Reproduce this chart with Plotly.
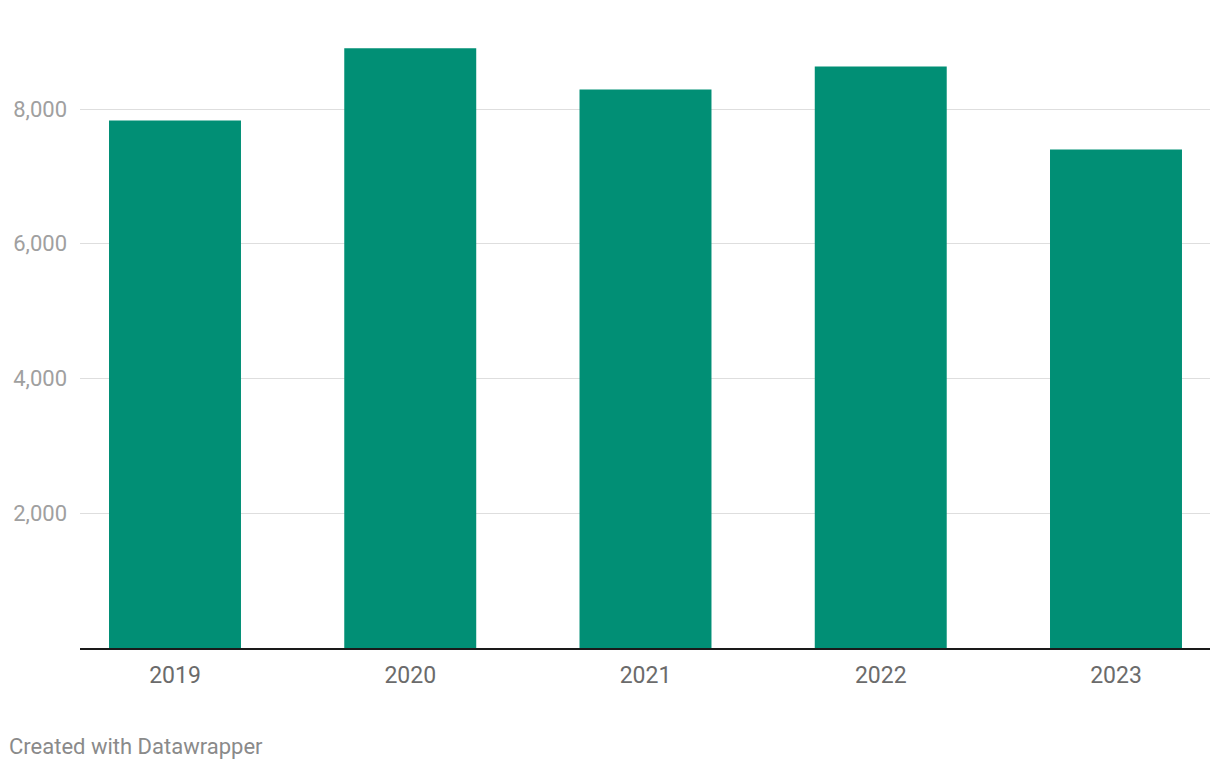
import plotly.graph_objects as go

years = ["2019", "2020", "2021", "2022", "2023"]
values = [7830, 8900, 8290, 8630, 7400]
ytick_vals = [2000, 4000, 6000, 8000]
ytick_text = ["2,000", "4,000", "6,000", "8,000"]
credit = "Created with Datawrapper"

# page has an 8px body margin; figure sized/offset to compensate
OFF = 8
W, H = 1220 - OFF, 770 - OFF
ml, mr, mt, mb = 80 - OFF, 10, 20 - OFF, 122
plot_w = W - ml - mr
plot_h = H - mt - mb

fig = go.Figure(
    go.Bar(
        x=years,
        y=values,
        marker=dict(color="#018f75", line=dict(width=0)),
        width=0.561,
        hoverinfo="x+y",
    )
)

fig.update_layout(
    width=W,
    height=H,
    margin=dict(l=ml, r=mr, t=mt, b=mb, pad=0),
    paper_bgcolor="white",
    plot_bgcolor="white",
    font=dict(family="Roboto, sans-serif"),
    showlegend=False,
    xaxis=dict(
        type="category",
        range=[-0.4038, 4.3996],
        automargin=False,
        showgrid=False,
        showline=True,
        linecolor="#1a1a1a",
        linewidth=2,
        ticks="",
        tickfont=dict(size=23, color="#6b6b6b"),
        ticklabelstandoff=5,
    ),
    yaxis=dict(
        range=[0, 9321],
        automargin=False,
        tickvals=ytick_vals,
        ticktext=ytick_text,
        showgrid=True,
        gridcolor="#dedede",
        gridwidth=1,
        zeroline=False,
        showline=False,
        ticks="",
        tickfont=dict(size=22, color="#a0a0a0"),
        ticklabelstandoff=12,
    ),
    annotations=[
        dict(
            text=credit,
            xref="paper",
            yref="paper",
            x=(7.3 - 80) / plot_w,
            y=(648 - 746) / plot_h,
            xanchor="left",
            yanchor="middle",
            showarrow=False,
            font=dict(size=22, color="#8a8a8a", family="Roboto, sans-serif"),
        )
    ],
)

fig.write_html("out.html")
